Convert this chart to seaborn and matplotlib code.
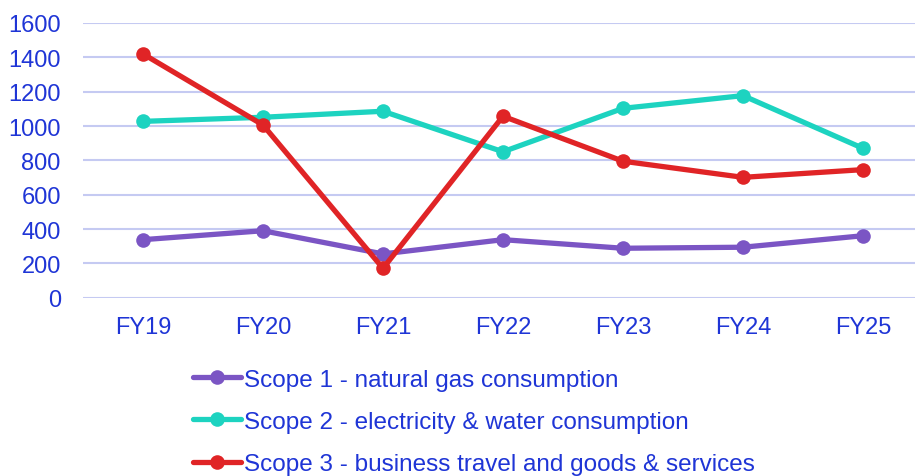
import pandas as pd
import matplotlib
matplotlib.use('Agg')
import matplotlib.pyplot as plt
import seaborn as sns

# Data
years = ['FY19', 'FY20', 'FY21', 'FY22', 'FY23', 'FY24', 'FY25']
scope1 = [338, 390, 255, 338, 288, 294, 361]
scope2 = [1027, 1051, 1086, 850, 1103, 1177, 870]
scope3 = [1420, 1006, 171, 1057, 795, 701, 746]

labels = ['Scope 1 - natural gas consumption',
          'Scope 2 - electricity & water consumption',
          'Scope 3 - business travel and goods & services']
colors = ['#7B55C4', '#1DD3C0', '#E02426']
text_blue = '#1F35D6'

sns.set_theme(style='white')
plt.rcParams['font.family'] = ['Liberation Sans', 'DejaVu Sans']

fig = plt.figure(figsize=(9.15, 4.77), dpi=100)
ax = fig.add_axes([83 / 915, 1 - 298.7 / 477, 840 / 915, (298.7 - 24) / 477])

for vals, lab, col in zip([scope1, scope2, scope3], labels, colors):
    sns.lineplot(x=years, y=vals, ax=ax, label=lab, color=col, sort=False,
                 linewidth=3.8, marker='o', markersize=10.5,
                 markeredgewidth=0, solid_capstyle='round')

ax.set_xlim(-0.5, 6.5)
ax.set_ylim(0, 1600)
ax.set_yticks(range(0, 1601, 200))
ax.yaxis.grid(True, color='#C5CAF2', linewidth=1.5)
ax.set_axisbelow(True)
sns.despine(ax=ax, left=True, bottom=True, top=True, right=True)
ax.tick_params(axis='both', length=0, labelsize=17, labelcolor=text_blue)
ax.tick_params(axis='y', pad=16)
ax.tick_params(axis='x', pad=13)
ax.set_xlabel('')
ax.set_ylabel('')

handles, labs = ax.get_legend_handles_labels()
ax.get_legend().remove()
leg = fig.legend(handles, labs, loc='upper left',
                 bbox_to_anchor=(183 / 915, 1 - 360 / 477),
                 frameon=False, fontsize=17.5, handlelength=2.0,
                 handletextpad=0.1, labelspacing=0.83, borderaxespad=0)
for t in leg.get_texts():
    t.set_color(text_blue)

fig.savefig('out.png', dpi=100)
